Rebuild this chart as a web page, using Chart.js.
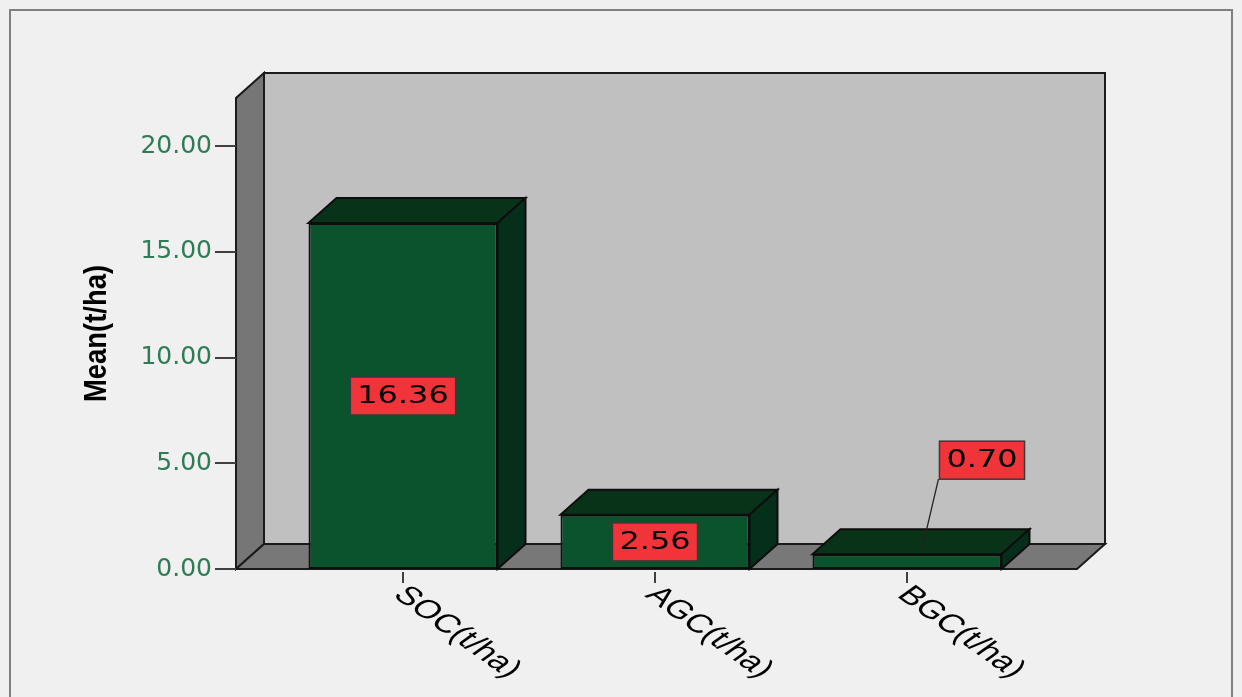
<!DOCTYPE html>
<html>
<head>
<meta charset="utf-8">
<script src="https://cdn.jsdelivr.net/npm/chart.js@4/dist/chart.umd.min.js"></script>
<style>
html, body { margin: 0; padding: 0; background: #f0f0f0; }
canvas { display: block; }
</style>
</head>
<body>
<canvas id="c" width="1242" height="697"></canvas>
<script>
// ---- data ----
const categories = ['SOC(t/ha)', 'AGC(t/ha)', 'BGC(t/ha)'];
const meanValues = [16.36, 2.56, 0.70];
const valueLabels = ['16.36', '2.56', '0.70'];
const yTickValues = [0, 5, 10, 15, 20];
const yAxisMax = 22.27;
const yTitle = 'Mean(t/ha)';

// ---- 3D look ----
const DX = 28, DY = -25, LEFT_EXT = 41, RIGHT_EXT = 44;

function poly(ctx, pts, fill, stroke, lw) {
  ctx.beginPath();
  ctx.moveTo(pts[0][0], pts[0][1]);
  for (let i = 1; i < pts.length; i++) ctx.lineTo(pts[i][0], pts[i][1]);
  ctx.closePath();
  ctx.fillStyle = fill;
  ctx.fill();
  ctx.lineWidth = lw || 2;
  ctx.strokeStyle = stroke || '#1a1a1a';
  ctx.lineJoin = 'miter';
  ctx.stroke();
}

const scene = {
  id: 'scene',
  beforeDraw(chart) {
    const { ctx, width, height } = chart;
    ctx.save();
    ctx.fillStyle = '#f0f0f0';
    ctx.fillRect(0, 0, width, height);
    ctx.strokeStyle = '#808080';
    ctx.lineWidth = 2;
    ctx.strokeRect(10, 10, 1222, height + 20);
    ctx.restore();
  },
  beforeDatasetsDraw(chart) {
    const { ctx, chartArea: a, scales: { y } } = chart;
    const y0 = y.getPixelForValue(0), yT = y.getPixelForValue(yAxisMax);
    const xl = a.left - LEFT_EXT, xr = a.right + RIGHT_EXT;
    ctx.save();
    poly(ctx, [[xl + DX, yT + DY], [xr + DX, yT + DY], [xr + DX, y0 + DY], [xl + DX, y0 + DY]], '#c0c0c0');
    poly(ctx, [[xl, y0], [xl, yT], [xl + DX, yT + DY], [xl + DX, y0 + DY]], '#767676');
    poly(ctx, [[xl, y0], [xl + DX, y0 + DY], [xr + DX, y0 + DY], [xr, y0]], '#787878');
    // y tick marks
    ctx.strokeStyle = '#404040';
    ctx.lineWidth = 2;
    yTickValues.forEach(v => {
      const py = Math.round(y.getPixelForValue(v));
      ctx.beginPath();
      ctx.moveTo(xl - 21, py);
      ctx.lineTo(xl, py);
      ctx.stroke();
    });
    // y axis title (condensed bold, rotated)
    ctx.save();
    ctx.translate(97, (a.top + a.bottom) / 2);
    ctx.rotate(-Math.PI / 2);
    ctx.font = 'bold 32px "Liberation Sans", Arial, sans-serif';
    const tw = ctx.measureText(yTitle).width;
    ctx.scale(137 / tw, 1);
    ctx.fillStyle = '#000';
    ctx.textAlign = 'center';
    ctx.textBaseline = 'middle';
    ctx.fillText(yTitle, 0, 0);
    ctx.restore();
    ctx.restore();
  },
  afterDatasetsDraw(chart) {
    const { ctx, scales: { x, y } } = chart;
    const meta = chart.getDatasetMeta(0);
    const y0 = y.getPixelForValue(0);
    ctx.save();
    // 3D faces of bars
    meta.data.forEach(el => {
      const { x: cx, y: top, base, width } = el.getProps(['x', 'y', 'base', 'width'], true);
      const l = cx - width / 2, r = cx + width / 2;
      poly(ctx, [[l, top], [l + DX, top + DY], [r + DX, top + DY], [r, top]], '#083319', '#0d0d0d', 2);
      poly(ctx, [[r, top], [r + DX, top + DY], [r + DX, base + DY], [r, base]], '#062f1b', '#0d0d0d', 2);
    });
    // x tick marks and labels
    categories.forEach((c, i) => {
      const px = Math.round(x.getPixelForTick(i));
      ctx.strokeStyle = '#404040';
      ctx.lineWidth = 2;
      ctx.beginPath();
      ctx.moveTo(px, y0 + 3);
      ctx.lineTo(px, y0 + 14);
      ctx.stroke();
      ctx.save();
      ctx.translate(px - 4, y0 + 22);
      ctx.scale(1.4, 1);
      ctx.rotate(Math.PI / 4);
      ctx.fillStyle = '#000';
      ctx.font = '26px "Liberation Sans", Arial, sans-serif';
      ctx.textAlign = 'left';
      ctx.textBaseline = 'middle';
      ctx.fillText(c, 0, 0);
      ctx.restore();
    });
    // value labels
    const S = 1.33;
    ctx.font = '24px "DejaVu Sans", sans-serif';
    meta.data.forEach((el, i) => {
      const { x: bx, y: top, base } = el.getProps(['x', 'y', 'base'], true);
      const t = valueLabels[i];
      const w = ctx.measureText(t).width * S + 14, h = 38;
      let cx, cy, leader = false;
      if (base - top > 50) { cx = bx; cy = (top + base) / 2; }
      else { cx = bx + 75; cy = top - 94; leader = true; }
      if (leader) {
        ctx.strokeStyle = '#222';
        ctx.lineWidth = 1.3;
        ctx.beginPath();
        ctx.moveTo(cx - w / 2 - 1, cy + h / 2);
        ctx.lineTo(bx + 15, top - 5);
        ctx.stroke();
      }
      ctx.fillStyle = '#f03439';
      ctx.fillRect(cx - w / 2, cy - h / 2, w, h);
      ctx.strokeStyle = '#3a3a3a';
      ctx.lineWidth = 1.5;
      ctx.strokeRect(cx - w / 2, cy - h / 2, w, h);
      ctx.save();
      ctx.translate(cx, cy + 1);
      ctx.scale(S, 1);
      ctx.fillStyle = '#000';
      ctx.textAlign = 'center';
      ctx.textBaseline = 'middle';
      ctx.fillText(t, 0, 0);
      ctx.restore();
    });
    ctx.restore();
  }
};

new Chart(document.getElementById('c'), {
  type: 'bar',
  data: {
    labels: categories,
    datasets: [{
      data: meanValues,
      backgroundColor: '#0b532c',
      borderColor: '#0d0d0d',
      borderWidth: 2,
      borderSkipped: false,
      barPercentage: 0.75,
      categoryPercentage: 1.0
    }]
  },
  options: {
    responsive: false,
    devicePixelRatio: 1,
    animation: false,
    layout: { padding: { left: 0, top: 98, right: 209, bottom: 0 } },
    plugins: { legend: { display: false }, tooltip: { enabled: false } },
    scales: {
      x: {
        offset: true,
        grid: { display: false, drawTicks: false },
        border: { display: false },
        ticks: { display: false },
        afterFit(scale) { scale.height = 128; }
      },
      y: {
        min: 0,
        max: yAxisMax,
        grid: { display: false, drawTicks: false },
        border: { display: false },
        afterBuildTicks(scale) { scale.ticks = yTickValues.map(v => ({ value: v })); },
        afterFit(scale) { scale.width = 277; },
        ticks: {
          padding: 65,
          color: '#2e7b55',
          font: { family: '"DejaVu Sans", sans-serif', size: 25 },
          callback: v => Number(v).toFixed(2)
        },
        title: { display: false, text: yTitle }
      }
    }
  },
  plugins: [scene]
});
</script>
</body>
</html>
